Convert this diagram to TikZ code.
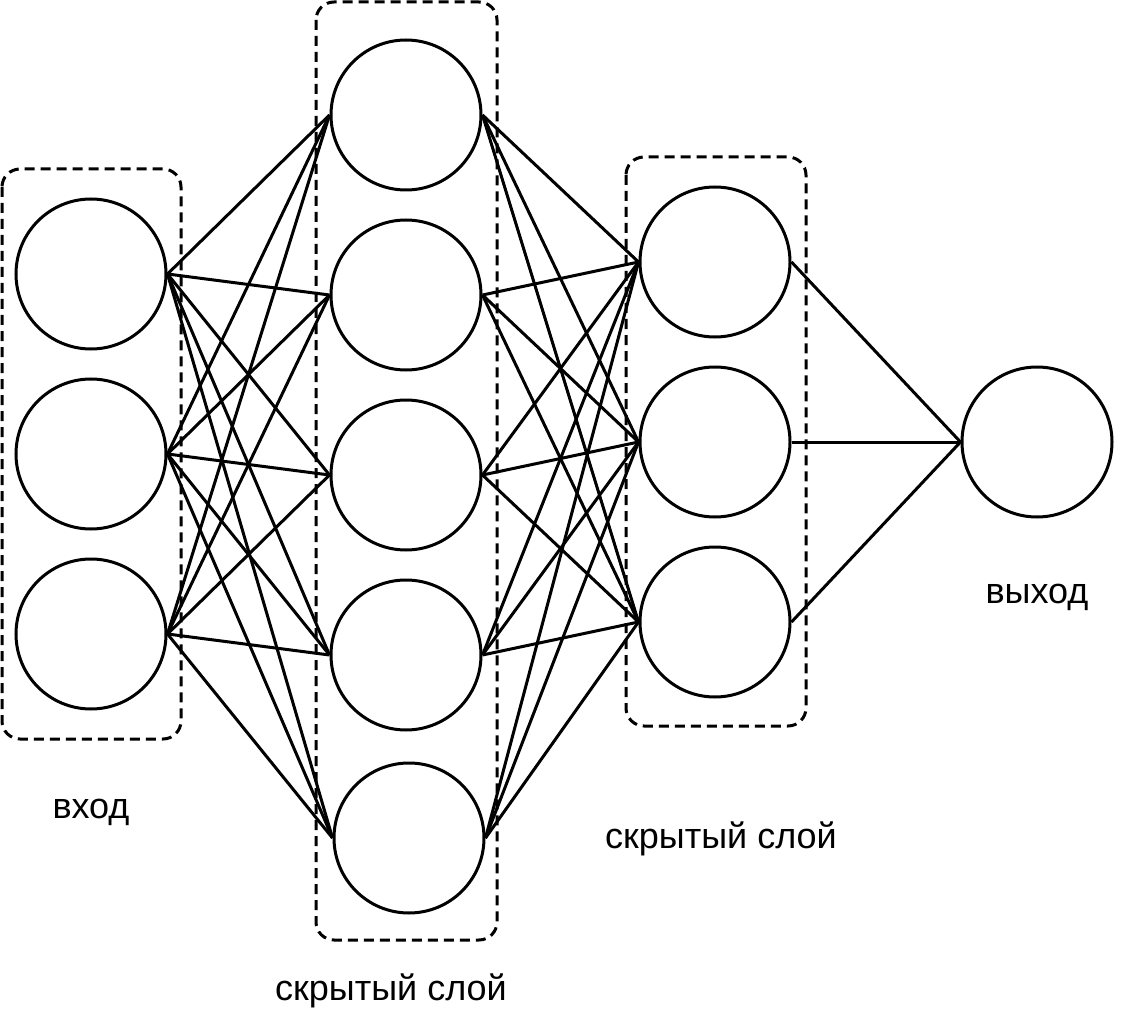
\documentclass[tikz,border=0pt]{standalone}
\usepackage{fontspec}
\setmainfont{Liberation Sans}
\tikzset{
	neuron/.style={circle, draw, line width=3pt, minimum size=150pt, inner sep=0pt},
	layerbox/.style={draw, line width=3pt, dash pattern=on 10pt off 6pt, rounded corners=18pt},
	link/.style={line width=3pt},
	caption/.style={anchor=base, font=\fontsize{36}{43}\selectfont}
}
\begin{document}
\begin{tikzpicture}
			[
				x={(1pt, 0pt)},
				y={(0pt, -1pt)}
			]
			\useasboundingbox (0,0) rectangle (1128,1035);
			% Layer boxes
			\draw[layerbox] (2,169) rectangle (181,739);
			\draw[layerbox] (316,2) rectangle (497,940);
			\draw[layerbox] (626,157) rectangle (806,726);
			% Neurons
			\foreach \i/\y in {1/274, 2/454, 3/634} {
					\node[neuron] (in\i) at (91,\y) {};
				}
			\foreach \i/\x/\y in {1/406/115, 2/406/295, 3/406/475, 4/406/655, 5/409/838} {
					\node[neuron] (ha\i) at (\x,\y) {};
				}
			\foreach \i/\y in {1/262, 2/442, 3/622} {
					\node[neuron] (hb\i) at (715,\y) {};
				}
			\node[neuron] (out) at (1037,442) {};
			% Links
			\foreach \i in {1,2,3} {
					\foreach \j in {1,...,5} {
							\draw[link] (in\i.east) -- (ha\j.west);
						}
				}
			\foreach \j in {1,...,5} {
					\foreach \k in {1,2,3} {
							\draw[link] (ha\j.east) -- (hb\k.west);
						}
				}
			\foreach \k in {1,2,3} {
					\draw[link] (hb\k.east) -- (out.west);
				}
			% Captions
			\node[caption] (lblin) at (91,818) {вход};
			\node[caption] (lblha) at (391,1000) {скрытый слой};
			\node[caption] (lblhb) at (721,848) {скрытый слой};
			\node[caption] (lblout) at (1037,603) {выход};
		\end{tikzpicture}
\end{document}
